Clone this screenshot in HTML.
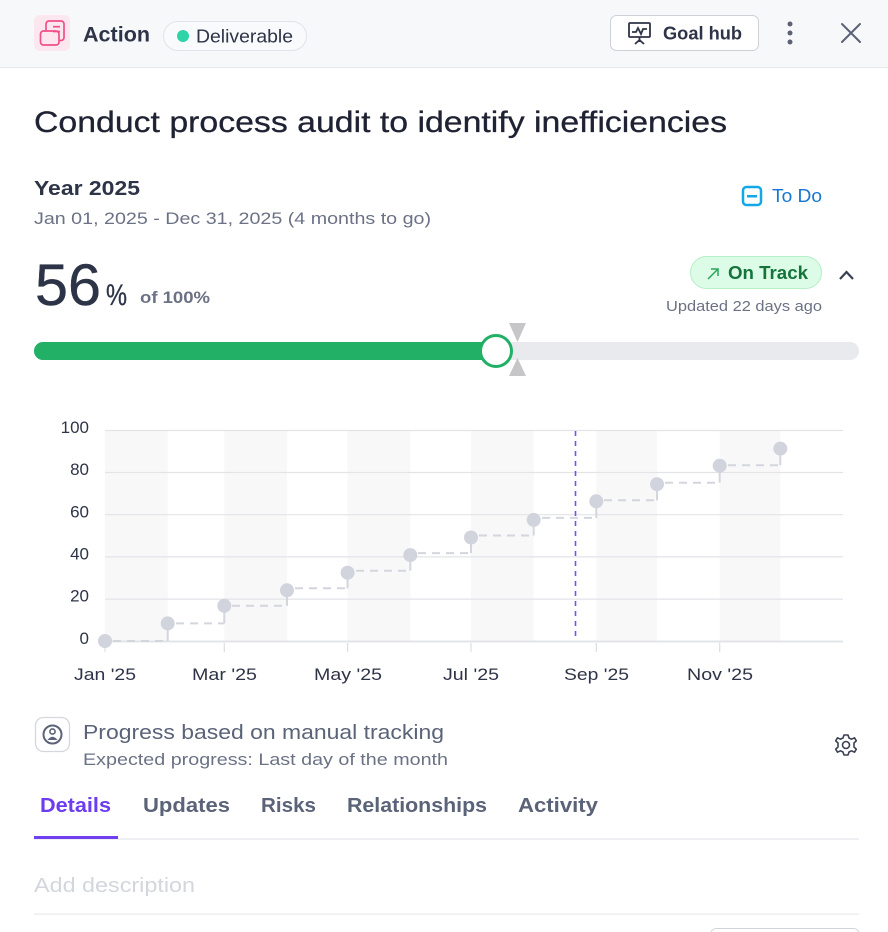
<!DOCTYPE html>
<html><head><meta charset="utf-8">
<style>
html,body{margin:0;padding:0;background:#fff;}
body{width:888px;height:932px;overflow:hidden;position:relative;font-family:"Liberation Sans",sans-serif;}
svg{position:absolute;left:0;top:0;}
text{font-family:"Liberation Sans",sans-serif;}
</style></head>
<body>
<svg width="888" height="932" viewBox="0 0 888 932" xmlns="http://www.w3.org/2000/svg">
<!-- header -->
<rect x="0" y="0" width="888" height="67" fill="#f7f8fa"/>
<rect x="0" y="67" width="888" height="1" fill="#e6e7eb"/>
<rect x="34" y="15" width="36" height="36" rx="6" fill="#fde7ef"/>
<g fill="none" stroke="#f0508a" stroke-width="1.7" stroke-linejoin="round">
<rect x="46" y="21" width="18" height="19.5" rx="3"/>
<rect x="40.5" y="31" width="18.5" height="14" rx="3" fill="#fde7ef"/>
<line x1="53" y1="26.7" x2="60" y2="26.7"/><line x1="53" y1="31.5" x2="60" y2="31.5"/>
</g>
<text x="83" y="41.5" font-size="21" font-weight="700" fill="#2e3447" textLength="67" lengthAdjust="spacingAndGlyphs">Action</text>
<rect x="163.5" y="21.5" width="143" height="29" rx="14.5" fill="#f9fafb" stroke="#e1e3e8"/>
<circle cx="183" cy="36" r="6" fill="#2dd4a8"/>
<text x="196" y="42.5" font-size="18" fill="#2e3447" textLength="97" lengthAdjust="spacingAndGlyphs">Deliverable</text>
<rect x="610.5" y="15.5" width="148" height="35" rx="6" fill="#fff" stroke="#cdd1d8"/>
<g fill="none" stroke="#2e3447" stroke-width="1.8">
<rect x="629" y="23" width="21" height="14" rx="1"/>
<polyline points="632,32 636,32 638,28 641,34 643,29 647,29"/>
<line x1="639.5" y1="37" x2="639.5" y2="42"/>
<line x1="635" y1="44" x2="639.5" y2="40"/><line x1="644" y1="44" x2="639.5" y2="40"/>
</g>
<text x="663" y="39.5" font-size="18" font-weight="700" fill="#2e3447" textLength="79" lengthAdjust="spacingAndGlyphs">Goal hub</text>
<circle cx="790" cy="24" r="2.5" fill="#5b6275"/><circle cx="790" cy="33" r="2.5" fill="#5b6275"/><circle cx="790" cy="42" r="2.5" fill="#5b6275"/>
<g stroke="#5b6275" stroke-width="2" stroke-linecap="round"><line x1="842" y1="24" x2="860" y2="42"/><line x1="860" y1="24" x2="842" y2="42"/></g>

<!-- title -->
<text x="34" y="132" font-size="30" font-weight="500" fill="#1f2233" stroke="#1f2233" stroke-width="0.3" textLength="693" lengthAdjust="spacingAndGlyphs">Conduct process audit to identify inefficiencies</text>
<text x="34" y="195" font-size="20" font-weight="700" fill="#2e3447" textLength="106" lengthAdjust="spacingAndGlyphs">Year 2025</text>
<text x="34" y="224" font-size="17" fill="#6b7285" textLength="397" lengthAdjust="spacingAndGlyphs">Jan 01, 2025 - Dec 31, 2025 (4 months to go)</text>

<!-- to do -->
<rect x="743" y="187" width="18" height="18" rx="3.5" fill="none" stroke="#12a8e8" stroke-width="2.5"/>
<rect x="747" y="195" width="10" height="2.5" fill="#12a8e8"/>
<text x="772" y="202" font-size="18" fill="#1677d2" textLength="50" lengthAdjust="spacingAndGlyphs">To Do</text>

<!-- 56% -->
<text x="35" y="305" font-size="58" font-weight="500" fill="#2e3447" stroke="#2e3447" stroke-width="0.4" textLength="66" lengthAdjust="spacingAndGlyphs">56</text>
<text x="106" y="305" font-size="30" font-weight="500" fill="#2e3447" stroke="#2e3447" stroke-width="0.3" textLength="21" lengthAdjust="spacingAndGlyphs">%</text>
<text x="140" y="303" font-size="17" font-weight="700" fill="#6b7285" textLength="70" lengthAdjust="spacingAndGlyphs">of 100%</text>

<!-- on track -->
<rect x="690.5" y="256.5" width="131" height="32" rx="16" fill="#dcfce7" stroke="#b4efc6"/>
<g stroke="#2ba55a" stroke-width="1.5" fill="none"><line x1="708" y1="279" x2="718" y2="269"/><polyline points="711,269 718,269 718,276"/></g>
<text x="728" y="279" font-size="18" font-weight="700" fill="#15743c" textLength="80" lengthAdjust="spacingAndGlyphs">On Track</text>
<polyline points="840,279 846.5,272 853,279" fill="none" stroke="#3b4154" stroke-width="2.2"/>
<text x="666" y="311" font-size="15" fill="#6b7285" textLength="156" lengthAdjust="spacingAndGlyphs">Updated 22 days ago</text>

<!-- progress bar -->
<rect x="34" y="342" width="825" height="18" rx="9" fill="#e9eaee"/>
<rect x="34" y="342" width="470" height="18" rx="9" fill="#22b067"/>
<polygon points="509,323 526,323 517.5,342" fill="#c6c6c8"/>
<polygon points="517.5,358 509,376 526,376" fill="#c6c6c8"/>
<circle cx="496" cy="351" r="15.5" fill="#fff" stroke="#22b067" stroke-width="3"/>

<!-- chart bands -->
<g fill="#f8f8f9">
<rect x="105" y="430" width="62.7" height="211"/>
<rect x="224.3" y="430" width="62.7" height="211"/>
<rect x="347.6" y="430" width="62.7" height="211"/>
<rect x="471" y="430" width="62.7" height="211"/>
<rect x="596.3" y="430" width="60.7" height="211"/>
<rect x="719.7" y="430" width="60.6" height="211"/>
</g>
<g stroke="#e3e4e8" stroke-width="1.2">
<line x1="105" y1="430.5" x2="843" y2="430.5"/>
<line x1="105" y1="472.5" x2="843" y2="472.5"/>
<line x1="105" y1="514.7" x2="843" y2="514.7"/>
<line x1="105" y1="556.9" x2="843" y2="556.9"/>
<line x1="105" y1="599.1" x2="843" y2="599.1"/>
</g>
<line x1="105" y1="641.5" x2="843" y2="641.5" stroke="#e3e4e8" stroke-width="2"/>
<g stroke="#dcdee3" stroke-width="1.2">
<line x1="105" y1="643" x2="105" y2="652"/>
<line x1="224.3" y1="643" x2="224.3" y2="652"/>
<line x1="347.6" y1="643" x2="347.6" y2="652"/>
<line x1="471" y1="643" x2="471" y2="652"/>
<line x1="596.3" y1="643" x2="596.3" y2="652"/>
<line x1="719.7" y1="643" x2="719.7" y2="652"/>
</g>
<g font-size="17" fill="#2e3447" text-anchor="end">
<text x="89" y="433">100</text>
<text x="89" y="475">80</text>
<text x="89" y="517.5">60</text>
<text x="89" y="559.5">40</text>
<text x="89" y="601.5">20</text>
<text x="89" y="644">0</text>
</g>
<g font-size="17" fill="#2e3447">
<text x="74" y="680" textLength="62" lengthAdjust="spacingAndGlyphs">Jan '25</text>
<text x="192" y="680" textLength="65" lengthAdjust="spacingAndGlyphs">Mar '25</text>
<text x="314" y="680" textLength="68" lengthAdjust="spacingAndGlyphs">May '25</text>
<text x="443" y="680" textLength="56" lengthAdjust="spacingAndGlyphs">Jul '25</text>
<text x="564" y="680" textLength="65" lengthAdjust="spacingAndGlyphs">Sep '25</text>
<text x="687" y="680" textLength="66" lengthAdjust="spacingAndGlyphs">Nov '25</text>
</g>
<!-- step lines -->
<g stroke="#d3d6dd" stroke-width="2" fill="none">
<g stroke-dasharray="8,6">
<line x1="113" y1="641" x2="167.7" y2="641"/>
<line x1="176" y1="623.4" x2="224.3" y2="623.4"/>
<line x1="232" y1="605.8" x2="287" y2="605.8"/>
<line x1="295" y1="588.3" x2="347.6" y2="588.3"/>
<line x1="356" y1="570.7" x2="410.3" y2="570.7"/>
<line x1="418" y1="553.1" x2="471" y2="553.1"/>
<line x1="479" y1="535.5" x2="533.7" y2="535.5"/>
<line x1="542" y1="517.9" x2="596.3" y2="517.9"/>
<line x1="604" y1="500.3" x2="657" y2="500.3"/>
<line x1="665" y1="482.7" x2="719.7" y2="482.7"/>
<line x1="728" y1="465.2" x2="780.3" y2="465.2"/>
</g>
<line x1="167.7" y1="641" x2="167.7" y2="623.4"/>
<line x1="224.3" y1="623.4" x2="224.3" y2="605.8"/>
<line x1="287" y1="605.8" x2="287" y2="588.3"/>
<line x1="347.6" y1="588.3" x2="347.6" y2="570.7"/>
<line x1="410.3" y1="570.7" x2="410.3" y2="553.1"/>
<line x1="471" y1="553.1" x2="471" y2="535.5"/>
<line x1="533.7" y1="535.5" x2="533.7" y2="517.9"/>
<line x1="596.3" y1="517.9" x2="596.3" y2="500.3"/>
<line x1="657" y1="500.3" x2="657" y2="482.7"/>
<line x1="719.7" y1="482.7" x2="719.7" y2="465.2"/>
<line x1="780.3" y1="465.2" x2="780.3" y2="447.6"/>
</g>
<line x1="575.5" y1="431" x2="575.5" y2="641" stroke="#7452e8" stroke-width="1.6" stroke-dasharray="5,5"/>
<g fill="#d1d4dc">
<circle cx="105" cy="641" r="7"/>
<circle cx="167.7" cy="623.4" r="7"/>
<circle cx="224.3" cy="605.8" r="7"/>
<circle cx="287" cy="590.3" r="7"/>
<circle cx="347.6" cy="572.7" r="7"/>
<circle cx="410.3" cy="555.1" r="7"/>
<circle cx="471" cy="537.5" r="7"/>
<circle cx="533.7" cy="519.9" r="7"/>
<circle cx="596.3" cy="501.3" r="7"/>
<circle cx="657" cy="484.2" r="7"/>
<circle cx="719.7" cy="465.7" r="7"/>
<circle cx="780.3" cy="448.6" r="7"/>
</g>

<!-- progress based -->
<rect x="35.5" y="717.5" width="34" height="34" rx="8" fill="#fff" stroke="#d4d7de" stroke-width="1.3"/>
<circle cx="52.5" cy="734.5" r="9" fill="none" stroke="#5b6378" stroke-width="2"/>
<circle cx="52.5" cy="731.5" r="2.6" fill="none" stroke="#5b6378" stroke-width="1.6"/>
<path d="M47.5 740 Q52.5 733.5 57.5 740 Z" fill="#5b6378"/>
<text x="83" y="739" font-size="20" fill="#5b6378" textLength="361" lengthAdjust="spacingAndGlyphs">Progress based on manual tracking</text>
<text x="83" y="765" font-size="17" fill="#6b7285" textLength="365" lengthAdjust="spacingAndGlyphs">Expected progress: Last day of the month</text>
<g transform="translate(846,745)" fill="none" stroke="#3b4154" stroke-width="1.6">
<path d="M-2,-10 L2,-10 L3,-7 L5.5,-5.8 L8.5,-7.2 L10.3,-4.2 L8,-2 L8,2 L10.3,4.2 L8.5,7.2 L5.5,5.8 L3,7 L2,10 L-2,10 L-3,7 L-5.5,5.8 L-8.5,7.2 L-10.3,4.2 L-8,2 L-8,-2 L-10.3,-4.2 L-8.5,-7.2 L-5.5,-5.8 L-3,-7 Z" stroke-linejoin="round"/>
<circle cx="0" cy="0" r="3.5"/>
</g>

<!-- tabs -->
<g font-size="20" font-weight="700">
<text x="40" y="812" fill="#6d3cf0" textLength="71" lengthAdjust="spacingAndGlyphs">Details</text>
<text x="143" y="812" fill="#5b6378" textLength="87" lengthAdjust="spacingAndGlyphs">Updates</text>
<text x="261" y="812" fill="#5b6378" textLength="55" lengthAdjust="spacingAndGlyphs">Risks</text>
<text x="347" y="812" fill="#5b6378" textLength="140" lengthAdjust="spacingAndGlyphs">Relationships</text>
<text x="518" y="812" fill="#5b6378" textLength="80" lengthAdjust="spacingAndGlyphs">Activity</text>
</g>
<rect x="34" y="838" width="825" height="2" fill="#eeeff2"/>
<rect x="34" y="836" width="84" height="3" fill="#7040f0"/>
<text x="34" y="892" font-size="20" fill="#d3d6dc" textLength="161" lengthAdjust="spacingAndGlyphs">Add description</text>
<rect x="34" y="913.5" width="825" height="1.2" fill="#e8e9ec"/>
<rect x="710.5" y="928.5" width="149" height="20" rx="6" fill="#fff" stroke="#d1d5db"/>
</svg>
</body></html>
